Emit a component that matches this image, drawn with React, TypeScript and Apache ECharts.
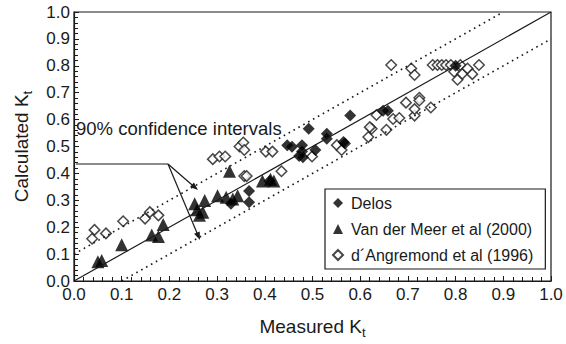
import React, { useEffect, useRef } from "react";
import * as echarts from "echarts";

const xTicks = [0, 0.1, 0.2, 0.3, 0.4, 0.5, 0.6, 0.7, 0.8, 0.9, 1.0];

const delos: number[][] = [
  [0.329, 0.287], [0.367, 0.335], [0.367, 0.293], [0.41, 0.372],
  [0.447, 0.505], [0.457, 0.499], [0.478, 0.505], [0.478, 0.481],
  [0.472, 0.465], [0.48, 0.46], [0.506, 0.487], [0.492, 0.566],
  [0.53, 0.547], [0.53, 0.529], [0.565, 0.517], [0.568, 0.511],
  [0.579, 0.615], [0.648, 0.633], [0.658, 0.633], [0.8, 0.8],
];

const vanDerMeer: number[][] = [
  [0.05, 0.072], [0.058, 0.076], [0.1, 0.135], [0.163, 0.171],
  [0.177, 0.165], [0.187, 0.21], [0.253, 0.287], [0.274, 0.299],
  [0.263, 0.244], [0.27, 0.256], [0.258, 0.265], [0.301, 0.317],
  [0.319, 0.311], [0.326, 0.408], [0.333, 0.305], [0.343, 0.317],
  [0.395, 0.372], [0.412, 0.378], [0.419, 0.372],
];

const dAngremond: number[][] = [
  [0.038, 0.157], [0.043, 0.19], [0.067, 0.177], [0.103, 0.222],
  [0.149, 0.232], [0.159, 0.256], [0.177, 0.244], [0.291, 0.453],
  [0.305, 0.463], [0.317, 0.463], [0.347, 0.5], [0.355, 0.515],
  [0.357, 0.487], [0.357, 0.39], [0.362, 0.39], [0.402, 0.481],
  [0.416, 0.481], [0.435, 0.408], [0.499, 0.463], [0.551, 0.505],
  [0.561, 0.487], [0.617, 0.535], [0.624, 0.566], [0.634, 0.617],
  [0.62, 0.572], [0.655, 0.562], [0.669, 0.602], [0.682, 0.606],
  [0.714, 0.615], [0.696, 0.663], [0.724, 0.681], [0.724, 0.671],
  [0.714, 0.639], [0.748, 0.645], [0.665, 0.803], [0.707, 0.79],
  [0.714, 0.766], [0.752, 0.803], [0.762, 0.803], [0.771, 0.803],
  [0.78, 0.803], [0.79, 0.803], [0.81, 0.803], [0.797, 0.778],
  [0.804, 0.748], [0.814, 0.77], [0.825, 0.79], [0.835, 0.769],
  [0.849, 0.803],
];

const identityLine = [[0, 0], [1, 1]];
const upperBound = [[0, 0.1], [0.9, 1]];
const lowerBound = [[0.1, 0], [1, 0.9]];

const names = ["Delos", "Van der Meer et al (2000)", "d\u00B4Angremond et al (1996)"];
const annotation = "90% confidence intervals";

const FONT = "'Liberation Sans', Arial, Helvetica, sans-serif";
const INK = "#1a1a1a";

export default function App() {
  const ref = useRef<HTMLDivElement>(null);
  useEffect(() => {
    if (!ref.current) return;
    const chart = echarts.init(ref.current, undefined, { renderer: "svg" });
    const axisCommon = {
      type: "value" as const,
      min: 0,
      max: 1,
      interval: 0.1,
      splitLine: { show: false },
      axisLine: { show: true, lineStyle: { color: INK, width: 1.2 } },
      axisTick: { show: true, inside: true, length: 5, lineStyle: { color: INK, width: 1 } },
      minorTick: { show: true, splitNumber: 5, length: 4, lineStyle: { color: INK, width: 1 } },
      axisLabel: {
        fontFamily: FONT,
        fontSize: 17,
        color: INK,
        showMaxLabel: true,
        formatter: (v: number) => v.toFixed(1),
      },
      nameLocation: "middle" as const,
      nameTextStyle: {
        fontFamily: FONT,
        fontSize: 19,
        color: INK,
        lineHeight: 26,
        rich: { sub: { fontFamily: FONT, fontSize: 13, lineHeight: 12, color: INK, verticalAlign: "bottom" } },
      },
    };
    chart.setOption({
      animation: false,
      backgroundColor: "#fff",
      grid: { left: 70, right: 15, top: 12, bottom: 57, show: true, borderColor: INK, borderWidth: 1.2 },
      xAxis: {
        ...axisCommon,
        name: "Measured K{sub|t}",
        nameGap: 32,
        axisLabel: { ...axisCommon.axisLabel, margin: 5 },
      },
      yAxis: {
        ...axisCommon,
        name: "Calculated K{sub|t}",
        nameGap: 40,
        axisLabel: { ...axisCommon.axisLabel, margin: 4 },
      },
      legend: {
        orient: "vertical",
        left: 325,
        top: 189,
        data: names,
        itemWidth: 10,
        itemHeight: 10,
        itemGap: 10,
        padding: [6, 12, 6, 7],
        borderColor: INK,
        borderWidth: 1.2,
        backgroundColor: "#fff",
        textStyle: { fontFamily: FONT, fontSize: 16, color: INK, lineHeight: 16, padding: [0, 0, 0, 3] },
      },
      series: [
        {
          type: "line", data: identityLine, symbol: "none", silent: true,
          lineStyle: { color: INK, width: 1.2 },
        },
        {
          type: "line", data: upperBound, symbol: "none", silent: true,
          lineStyle: { color: INK, width: 1.6, type: [1.6, 4] },
        },
        {
          type: "line", data: lowerBound, symbol: "none", silent: true,
          lineStyle: { color: INK, width: 1.6, type: [1.6, 4] },
        },
        {
          name: names[2], type: "scatter", data: dAngremond, symbol: "diamond", symbolSize: 10.5,
          itemStyle: { color: "#fff", borderColor: INK, borderWidth: 1.5 },
        },
        {
          name: names[1], type: "scatter", data: vanDerMeer, symbol: "triangle", symbolSize: 13,
          itemStyle: { color: "#000" },
        },
        {
          name: names[0], type: "scatter", data: delos, symbol: "diamond", symbolSize: 12,
          itemStyle: { color: "#000" },
        },
      ],
      graphic: [
        {
          type: "text", left: 76, top: 119,
          style: { text: annotation, fontFamily: FONT, fontSize: 18.5, fill: INK },
        },
        { type: "line", shape: { x1: 76, y1: 164, x2: 168, y2: 164 }, style: { stroke: INK, lineWidth: 1.2 } },
        { type: "line", shape: { x1: 168, y1: 164, x2: 195, y2: 187.5 }, style: { stroke: INK, lineWidth: 1.2 } },
        { type: "line", shape: { x1: 168, y1: 164, x2: 198.5, y2: 236.5 }, style: { stroke: INK, lineWidth: 1.2 } },
        {
          type: "polygon",
          shape: { points: [[198, 190], [189.99, 187.03], [193.92, 182.49]] },
          style: { fill: INK },
        },
        {
          type: "polygon",
          shape: { points: [[200, 240], [194.1, 233.8], [199.7, 231.4]] },
          style: { fill: INK },
        },
      ],
    });
    return () => chart.dispose();
  }, []);
  return (
    <div
      ref={ref}
      style={{ position: "absolute", left: 0, top: 0, width: 566, height: 344 }}
    />
  );
}
